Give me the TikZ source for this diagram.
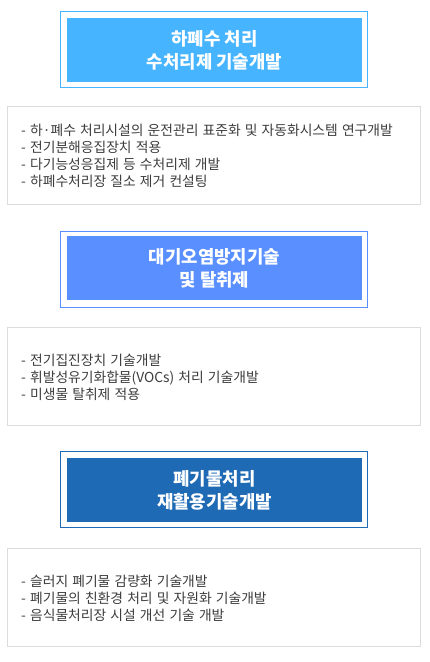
\documentclass[tikz,border=0pt]{standalone}
\usepackage{fontspec}
\setmainfont{Noto Sans CJK KR}
\usetikzlibrary{positioning}
\definecolor{waterblue}{HTML}{47B4FF}
\definecolor{airblue}{HTML}{5A8FFF}
\definecolor{wasteblue}{HTML}{1F6AB4}
\definecolor{boxgray}{HTML}{DCDCDC}
\definecolor{itemgray}{HTML}{3C3C3C}
\newcommand\itemfont{\fontsize{13.8}{17}\selectfont\spaceskip=0.3em plus 0.1em\relax}

\begin{document}
\begin{tikzpicture}[x=1pt,y=-1pt,
    frame node/.style={draw,line width=1pt,minimum width=307pt,minimum height=76pt,inner sep=0pt},
    title node/.style={minimum width=295pt,minimum height=64pt,inner sep=0pt,text=white,align=center,font=\bfseries\fontsize{17.8}{23}\selectfont},
    info node/.style={draw=boxgray,line width=1pt,minimum width=413pt,minimum height=98pt,inner sep=0pt},
    item node/.style={anchor=west,align=left,inner sep=0pt,text=itemgray,font=\itemfont}]
    \useasboundingbox (0,0) rectangle (430,662);

    % water
    \node[frame node,draw=waterblue] (f1) at (214,49.5) {};
    \node[title node,fill=waterblue] (t1) at (214.5,50) {하폐수 처리\\수처리제 기술개발};
    \node[info node] (i1) at (214,155.5) {};
    \node[item node] (l1) at ([xshift=14pt]i1.west) {- 하·폐수 처리시설의 운전관리 표준화 및 자동화시스템 연구개발\\- 전기분해응집장치 적용\\- 다기능성응집제 등 수처리제 개발\\- 하폐수처리장 질소 제거 컨설팅};

    % air
    \node[frame node,draw=airblue] (f2) at (214,269) {};
    \node[title node,fill=airblue] (t2) at (214.5,268) {대기오염방지기술\\및 탈취제};
    \node[info node] (i2) at (214,376.5) {};
    \node[item node] (l2) at ([xshift=14pt,yshift=-1pt]i2.west) {- 전기집진장치 기술개발\\- 휘발성유기화합물(VOCs) 처리 기술개발\\- 미생물 탈취제 적용};

    % waste
    \node[frame node,draw=wasteblue] (f3) at (214,489.5) {};
    \node[title node,fill=wasteblue] (t3) at (214.5,490) {폐기물처리\\재활용기술개발};
    \node[info node] (i3) at (214,597.5) {};
    \node[item node] (l3) at ([xshift=14pt,yshift=-1pt]i3.west) {- 슬러지 폐기물 감량화 기술개발\\- 폐기물의 친환경 처리 및 자원화 기술개발\\- 음식물처리장 시설 개선 기술 개발};
\end{tikzpicture}
\end{document}
